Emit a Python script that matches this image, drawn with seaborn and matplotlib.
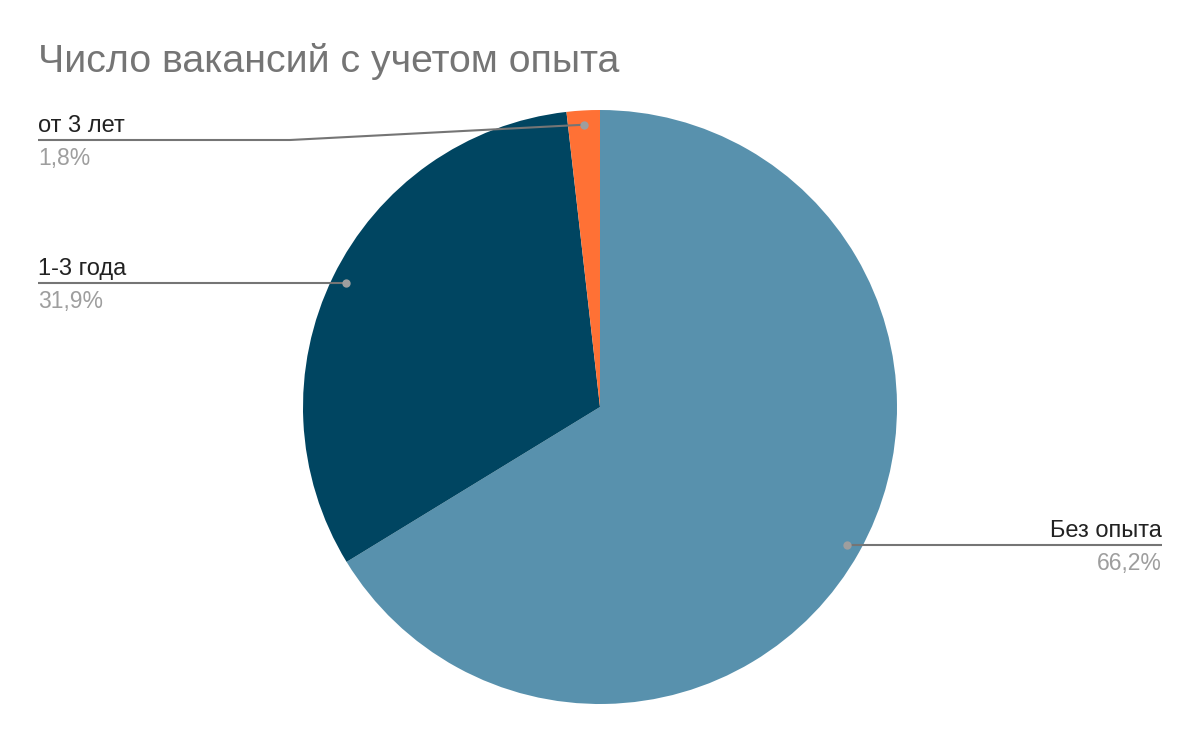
import numpy as np
import seaborn as sns
import matplotlib.pyplot as plt

# Data
categories = ["Без опыта", "1-3 года", "от 3 лет"]
shares = [66.2, 31.9, 1.8]
slice_colors = ["#5891ad", "#004561", "#ff7135"]

sns.set_theme(style="white")
plt.rcParams["font.family"] = ["Liberation Sans", "DejaVu Sans"]

W, H = 1200, 742
fig = plt.figure(figsize=(12, 7.42), dpi=100)
ax = fig.add_axes([0, 0, 1, 1])

cx, cy, r = 600, H - 407, 297
palette = sns.color_palette(slice_colors)
wedges, _ = ax.pie(shares, colors=palette, startangle=90, counterclock=False,
                   center=(cx, cy), radius=r, frame=True,
                   wedgeprops=dict(linewidth=0))
ax.set_xlim(0, W)
ax.set_ylim(0, H)
ax.set_aspect("equal")
ax.axis("off")

# label layout: (text x, line y from top, alignment)
layout = {
    "Без опыта": (1162, 545, "right"),
    "1-3 года": (38, 283, "left"),
    "от 3 лет": (38, 140, "left"),
}

line_col = "#757575"
for w, name, pct in zip(wedges, categories, shares):
    mid = np.deg2rad((w.theta1 + w.theta2) / 2)
    dx, dy = cx + 0.952 * r * np.cos(mid), cy + 0.952 * r * np.sin(mid)
    tx, ly, ha = layout[name]
    ly = H - ly
    if ha == "left":
        if abs(ly - dy) > 3:
            xs, ys = [tx, 290, dx], [ly, ly, dy]
        else:
            xs, ys = [tx, dx], [ly, ly]
    else:
        xs, ys = [dx, tx], [dy, dy]
        ly = dy
    ax.plot(xs, ys, color=line_col, lw=1.5, solid_capstyle="butt", zorder=3)
    ax.plot([dx], [dy], "o", color="#9e9e9e", ms=6, mec="none", zorder=4)
    ax.text(tx, ly + 3, name, ha=ha, va="bottom", fontsize=17, color="#222222")
    ax.text(tx, ly - 7, f"{pct:.1f}%".replace(".", ","), ha=ha, va="top",
            fontsize=16.5, color="#9e9e9e")

fig.text(38 / W, 1 - 62 / H, "Число вакансий с учетом опыта", ha="left", va="center",
         fontsize=28.3, color="#757575")

fig.savefig("out.png", dpi=100, facecolor="white")
